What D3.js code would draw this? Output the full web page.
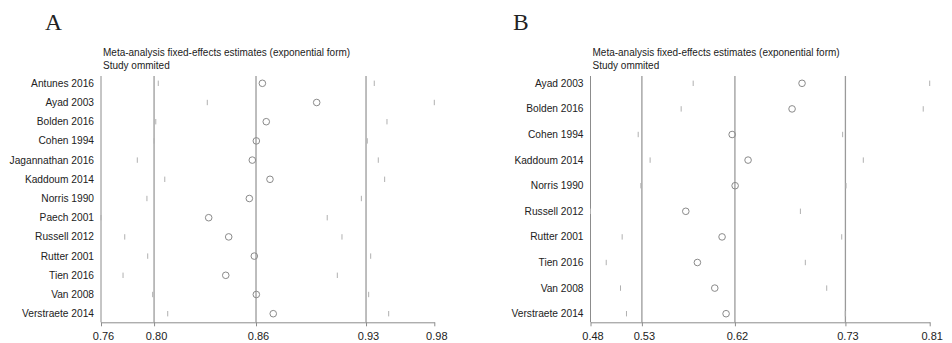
<!DOCTYPE html>
<html lang="en">
<head>
    <meta charset="UTF-8">
    <title>Influence analysis</title>
    <script src="https://d3js.org/d3.v7.min.js"></script>
    <style>
        body {
            margin: 0;
            background: #fff;
        }
        svg text {
            font-family: "Liberation Sans", Arial, sans-serif;
            fill: #222;
        }
        .panel-letter {
            font-family: "Liberation Serif", "Times New Roman", serif !important;
            font-size: 23.5px;
        }
        .title {
            font-size: 10px;
        }
        .study {
            font-size: 10.2px;
        }
        .axis text {
            font-size: 11px;
        }
        .axis path, .axis line {
            stroke: #8c8c8c;
        }
    </style>
</head>
<body>
    <svg width="952" height="343"></svg>
    <script>
        // Panel A
        const studiesA = ["Antunes 2016", "Ayad 2003", "Bolden 2016", "Cohen 1994", "Jagannathan 2016",
            "Kaddoum 2014", "Norris 1990", "Paech 2001", "Russell 2012", "Rutter 2001",
            "Tien 2016", "Van 2008", "Verstraete 2014"];
        const estA   = [0.8660, 0.9010, 0.8685, 0.8621, 0.8595, 0.8709, 0.8576, 0.8314, 0.8443, 0.8608, 0.8424, 0.8621, 0.8730];
        const lowerA = [0.7989, 0.8305, 0.7973, 0.7962, 0.7854, 0.8031, 0.7916, 0.7620, 0.7773, 0.7921, 0.7762, 0.7953, 0.8050];
        const upperA = [0.9381, 0.9768, 0.9463, 0.9336, 0.9407, 0.9448, 0.9298, 0.9078, 0.9173, 0.9358, 0.9143, 0.9345, 0.9474];
        const ticksA = [0.7620, 0.7962, 0.8619, 0.9328, 0.9768];
        const tickLabelsA = ["0.76", "0.80", "0.86", "0.93", "0.98"];

        // Panel B
        const studiesB = ["Ayad 2003", "Bolden 2016", "Cohen 1994", "Kaddoum 2014", "Norris 1990",
            "Russell 2012", "Rutter 2001", "Tien 2016", "Van 2008", "Verstraete 2014"];
        const estB   = [0.6858, 0.6761, 0.6178, 0.6333, 0.6207, 0.5727, 0.6080, 0.5840, 0.6009, 0.6119];
        const lowerB = [0.5799, 0.5682, 0.5264, 0.5380, 0.5290, 0.4800, 0.5108, 0.4953, 0.5092, 0.5150];
        const upperB = [0.8100, 0.8037, 0.7253, 0.7454, 0.7286, 0.6842, 0.7244, 0.6890, 0.7098, 0.7279];
        const ticksB = [0.4800, 0.5300, 0.6205, 0.7280, 0.8100];
        const tickLabelsB = ["0.48", "0.53", "0.62", "0.73", "0.81"];

        const svg = d3.select("svg");
        const plotTop = 76;
        const axisY = 322.3;

        function drawPanel(cfg) {
            const g = svg.append("g");

            const x = d3.scaleLinear()
                .domain([cfg.ticks[0], cfg.ticks[cfg.ticks.length - 1]])
                .range([cfg.x0, cfg.x1]);

            const y = d3.scalePoint()
                .domain(cfg.studies)
                .range([83.3, 313.7]);

            g.append("text")
                .attr("class", "panel-letter")
                .attr("x", cfg.letterX)
                .attr("y", 29.5)
                .text(cfg.letter);

            g.append("text")
                .attr("class", "title")
                .attr("x", cfg.x0 + 2)
                .attr("y", 56)
                .text("Meta-analysis fixed-effects estimates (exponential form)");

            g.append("text")
                .attr("class", "title")
                .attr("x", cfg.x0 + 2)
                .attr("y", 68.5)
                .text("Study ommited");

            // y axis line
            g.append("line")
                .attr("x1", cfg.x0).attr("x2", cfg.x0)
                .attr("y1", plotTop).attr("y2", axisY)
                .attr("stroke", "#8c8c8c");

            // pooled estimate and CI lines
            g.selectAll(".ref")
                .data(cfg.ticks.slice(1, 4))
                .enter().append("line")
                .attr("x1", d => x(d)).attr("x2", d => x(d))
                .attr("y1", plotTop).attr("y2", axisY)
                .attr("stroke", "#9a9a9a")
                .attr("stroke-width", 1.3);

            const xAxis = g.append("g")
                .attr("class", "axis")
                .attr("transform", `translate(0, ${axisY})`)
                .call(d3.axisBottom(x)
                    .tickValues(cfg.ticks)
                    .tickFormat((d, i) => cfg.tickLabels[i])
                    .tickSize(4)
                    .tickSizeOuter(0));
            xAxis.selectAll("text").attr("dy", "0.95em").attr("dx", 2);

            g.selectAll(".study")
                .data(cfg.studies)
                .enter().append("text")
                .attr("class", "study")
                .attr("x", cfg.x0 - 7)
                .attr("y", d => y(d))
                .attr("dy", "0.35em")
                .attr("text-anchor", "end")
                .text(d => d);

            const rows = cfg.studies.map((s, i) => ({
                name: s, est: cfg.est[i], lo: cfg.lower[i], hi: cfg.upper[i]
            }));

            g.selectAll(".lo")
                .data(rows)
                .enter().append("line")
                .attr("x1", d => x(d.lo)).attr("x2", d => x(d.lo))
                .attr("y1", d => y(d.name) - 2.7).attr("y2", d => y(d.name) + 2.7)
                .attr("stroke", "#b0b0b0");

            g.selectAll(".hi")
                .data(rows)
                .enter().append("line")
                .attr("x1", d => x(d.hi)).attr("x2", d => x(d.hi))
                .attr("y1", d => y(d.name) - 2.7).attr("y2", d => y(d.name) + 2.7)
                .attr("stroke", "#b0b0b0");

            g.selectAll(".est")
                .data(rows)
                .enter().append("circle")
                .attr("cx", d => x(d.est))
                .attr("cy", d => y(d.name))
                .attr("r", 3.3)
                .attr("fill", "none")
                .attr("stroke", "#8a8a8a");
        }

        drawPanel({
            letter: "A", letterX: 45, x0: 101, x1: 434.3,
            studies: studiesA, est: estA, lower: lowerA, upper: upperA,
            ticks: ticksA, tickLabels: tickLabelsA
        });

        drawPanel({
            letter: "B", letterX: 513, x0: 590.5, x1: 929.7,
            studies: studiesB, est: estB, lower: lowerB, upper: upperB,
            ticks: ticksB, tickLabels: tickLabelsB
        });
    </script>
</body>
</html>
